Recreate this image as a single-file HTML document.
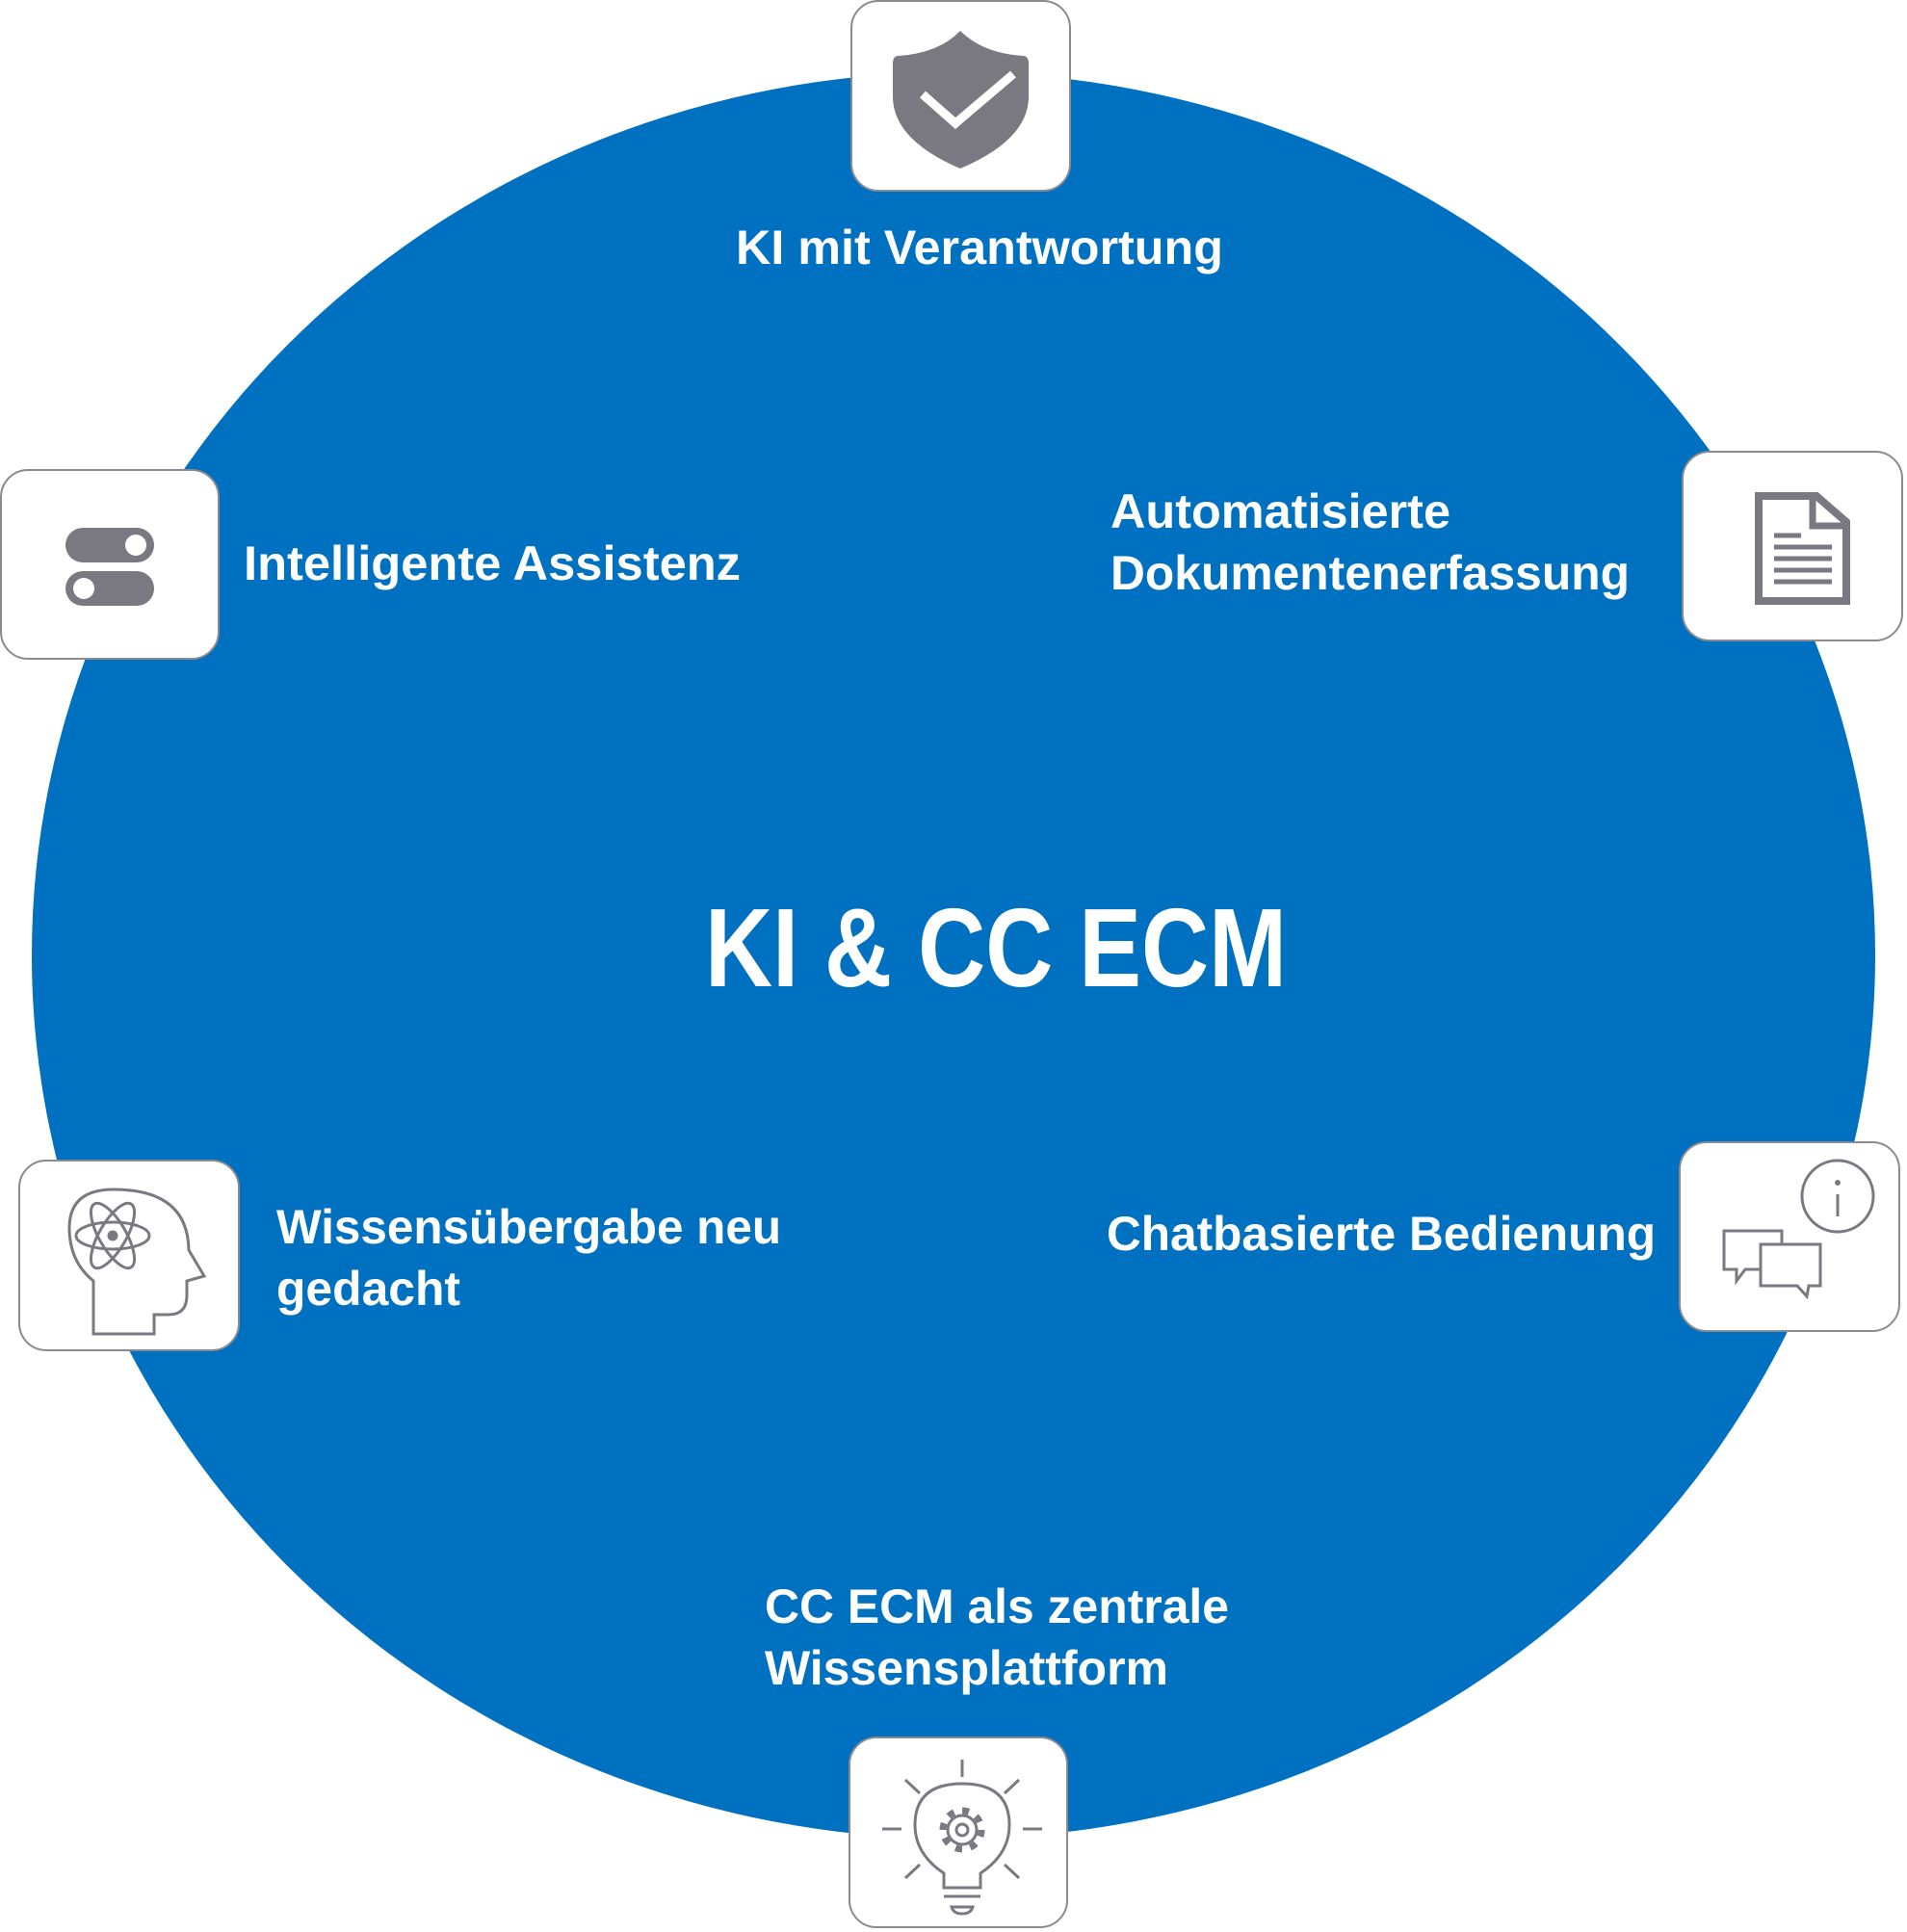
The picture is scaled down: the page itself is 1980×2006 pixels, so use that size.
<!DOCTYPE html>
<html><head><meta charset="utf-8"><style>
html,body{margin:0;padding:0;background:#fff;}
svg{display:block;}
text{font-family:"Liberation Sans",sans-serif;font-weight:bold;fill:#fff;}
</style></head><body>
<svg width="1980" height="2006" viewBox="0 0 1980 2006" xmlns="http://www.w3.org/2000/svg">
<ellipse cx="990" cy="992" rx="957" ry="917" fill="#0070c0"/>

<g fill="#fff" stroke="#8a8a90" stroke-width="2">
<rect x="884" y="1" width="227" height="197" rx="28"/>
<rect x="1" y="488" width="226" height="196" rx="28"/>
<rect x="1747" y="469" width="228" height="196" rx="28"/>
<rect x="20" y="1205" width="228" height="197" rx="28"/>
<rect x="1744" y="1186" width="228" height="196" rx="28"/>
<rect x="882" y="1804" width="226" height="197" rx="28"/>
</g>

<!-- shield -->
<path d="M997,32 Q1020,55 1062,58 Q1068,58 1068,66 L1068,100 Q1068,145 997,175 Q927,145 927,100 L927,66 Q927,58 933,58 Q975,55 997,32 Z" fill="#7a7880"/>
<path d="M958,98 L992,128 L1052,77" fill="none" stroke="#fff" stroke-width="9"/>

<!-- toggles -->
<rect x="68" y="548" width="92" height="36" rx="18" fill="#7a7880"/>
<circle cx="141" cy="566" r="11" fill="#fff"/>
<rect x="68" y="593" width="92" height="36" rx="18" fill="#7a7880"/>
<circle cx="87" cy="611" r="11" fill="#fff"/>

<!-- document -->
<path d="M1826,515 L1886,515 L1917,542 L1917,624 L1826,624 Z" fill="none" stroke="#7a7880" stroke-width="8"/>
<path d="M1882,515 L1882,546 L1917,546" fill="none" stroke="#7a7880" stroke-width="7"/>
<g stroke="#7a7880" stroke-width="5">
<line x1="1842" y1="556" x2="1870" y2="556"/><line x1="1842" y1="568" x2="1902" y2="568"/>
<line x1="1842" y1="580" x2="1902" y2="580"/><line x1="1842" y1="592" x2="1902" y2="592"/>
<line x1="1842" y1="604" x2="1902" y2="604"/></g>

<!-- head -->
<g fill="none" stroke="#7a7880" stroke-width="3">
<path d="M97,1385 L97,1330 Q72,1310 72,1275 Q72,1235 118,1235 Q195,1235 196,1298 L212,1325 L194,1330 L194,1345 Q194,1365 175,1365 L160,1365 L160,1385 Z"/>
<ellipse cx="117" cy="1283" rx="38" ry="14"/>
<ellipse cx="117" cy="1283" rx="38" ry="14" transform="rotate(60 117 1283)"/>
<ellipse cx="117" cy="1283" rx="38" ry="14" transform="rotate(-60 117 1283)"/>
<circle cx="117" cy="1283" r="4" fill="#7a7880"/>
</g>

<!-- chat -->
<g fill="none" stroke="#7a7880" stroke-width="3">
<circle cx="1908" cy="1242" r="37"/>
<line x1="1908" y1="1240" x2="1908" y2="1263"/>
<path d="M1790,1278 L1850,1278 L1850,1318 L1812,1318 L1803,1330 L1803,1318 L1790,1318 Z"/>
<path d="M1828,1292 L1890,1292 L1890,1335 L1878,1335 L1876,1346 L1866,1335 L1828,1335 Z" fill="#fff"/>
</g>
<circle cx="1908" cy="1228" r="3" fill="#7a7880"/>

<!-- lightbulb -->
<g fill="none" stroke="#7a7880" stroke-width="3">
<path d="M980,1960 L980,1945 Q950,1925 950,1895 Q950,1852 999,1852 Q1048,1852 1048,1895 Q1048,1925 1018,1945 L1018,1960 Z"/>
<line x1="980" y1="1969" x2="1018" y2="1969"/>
<path d="M988,1980 L1010,1980 Q1008,1987 999,1987 Q990,1987 988,1980 Z"/>
<line x1="999" y1="1827" x2="999" y2="1845"/>
<line x1="916" y1="1899" x2="936" y2="1899"/><line x1="1062" y1="1899" x2="1082" y2="1899"/>
<line x1="940" y1="1848" x2="955" y2="1862"/><line x1="1058" y1="1848" x2="1043" y2="1862"/>
<line x1="940" y1="1950" x2="955" y2="1936"/><line x1="1058" y1="1950" x2="1043" y2="1936"/>
<circle cx="999" cy="1900" r="15"/>
<circle cx="999" cy="1900" r="20" stroke-dasharray="7 8.7" stroke-width="7"/>
<circle cx="999" cy="1900" r="6"/>
</g>

<text x="764" y="274" font-size="50" textLength="506" lengthAdjust="spacingAndGlyphs">KI mit Verantwortung</text>
<text x="253" y="602" font-size="50" textLength="516" lengthAdjust="spacingAndGlyphs">Intelligente Assistenz</text>
<text x="1153" y="548" font-size="50" textLength="353" lengthAdjust="spacingAndGlyphs">Automatisierte</text>
<text x="1153" y="612" font-size="50" textLength="539" lengthAdjust="spacingAndGlyphs">Dokumentenerfassung</text>
<text x="287" y="1291" font-size="50" textLength="524" lengthAdjust="spacingAndGlyphs">Wissensübergabe neu</text>
<text x="287" y="1355" font-size="50" textLength="191" lengthAdjust="spacingAndGlyphs">gedacht</text>
<text x="1149" y="1298" font-size="50" textLength="570" lengthAdjust="spacingAndGlyphs">Chatbasierte Bedienung</text>
<text x="794" y="1685" font-size="50" textLength="482" lengthAdjust="spacingAndGlyphs">CC ECM als zentrale</text>
<text x="794" y="1749" font-size="50" textLength="419" lengthAdjust="spacingAndGlyphs">Wissensplattform</text>
<text x="732" y="1024" font-size="116" textLength="604" lengthAdjust="spacingAndGlyphs">KI &amp; CC ECM</text>
</svg>
</body></html>
